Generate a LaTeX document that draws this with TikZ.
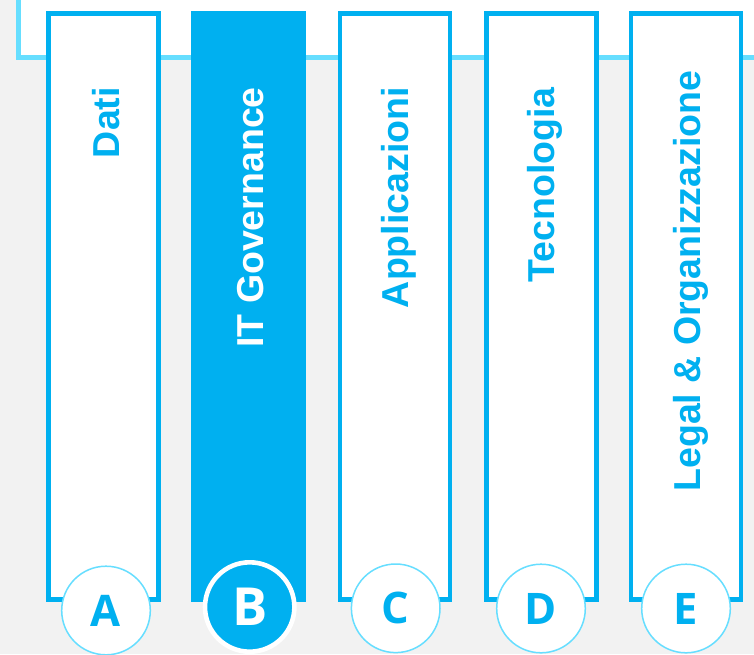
\documentclass[tikz,border=0pt]{standalone}
\usepackage{fontspec}
\setmainfont{Liberation Sans}
\newfontfamily\badgefont{Open Sans}
\definecolor{govblue}{HTML}{00B0F0}
\definecolor{framecyan}{HTML}{66DEFF}
\definecolor{pagegray}{HTML}{F2F2F2}

\begin{document}
\begin{tikzpicture}[x=1pt, y=-1pt,
	pillar/.style={draw=govblue, line width=4.7pt, fill=white, minimum width=110pt, minimum height=586pt, inner sep=0pt},
	pillartext/.style={rotate=90, anchor=base east, inner sep=0pt, text=govblue, font=\fontsize{37.5}{40}\selectfont\bfseries},
	badge/.style={circle, draw=framecyan, line width=1.5pt, fill=white, minimum size=88.6pt, inner sep=0pt, text=govblue, font=\badgefont\fontsize{43.5}{46}\selectfont\bfseries}]
		\useasboundingbox (0, 0) rectangle (754, 654);
		\clip (0, 0) rectangle (754, 654);
		\fill[pagegray] (0, 0) rectangle (754, 654);
		
		% frame behind the pillars
		\draw[framecyan, line width=4.7pt, fill=white] (18.5, -20) rectangle (790, 57.5);
		
		\node[pillar] (colA) at (103.5, 306.4) {};
		\node[pillar, fill=govblue] (colB) at (248.5, 306.4) {};
		\node[pillar] (colC) at (395, 306.4) {};
		\node[pillar] (colD) at (541.5, 306.4) {};
		\node[pillar] (colE) at (686, 306.4) {};
		
		\node[pillartext] (labA) at (119, 87) {Dati};
		\node[pillartext, text=white] (labB) at (263.5, 87) {IT Governance};
		\node[pillartext] (labC) at (408, 87) {Applicazioni};
		\node[pillartext] (labD) at (554, 87) {Tecnologia};
		\node[pillartext] (labE) at (700, 70.5) {Legal \& Organizzazione};
		
		\node[badge] (circA) at (106, 610.5) {A};
		\node[badge, draw=white, line width=4.6pt, fill=govblue, text=white, minimum size=89.4pt, font=\badgefont\fontsize{52.5}{55}\selectfont\bfseries] (circB) at (249.7, 607) {B};
		\node[badge] (circC) at (395.7, 608.3) {C};
		\node[badge] (circD) at (541, 608.5) {D};
		\node[badge] (circE) at (686, 608.5) {E};
	\end{tikzpicture}
\end{document}
